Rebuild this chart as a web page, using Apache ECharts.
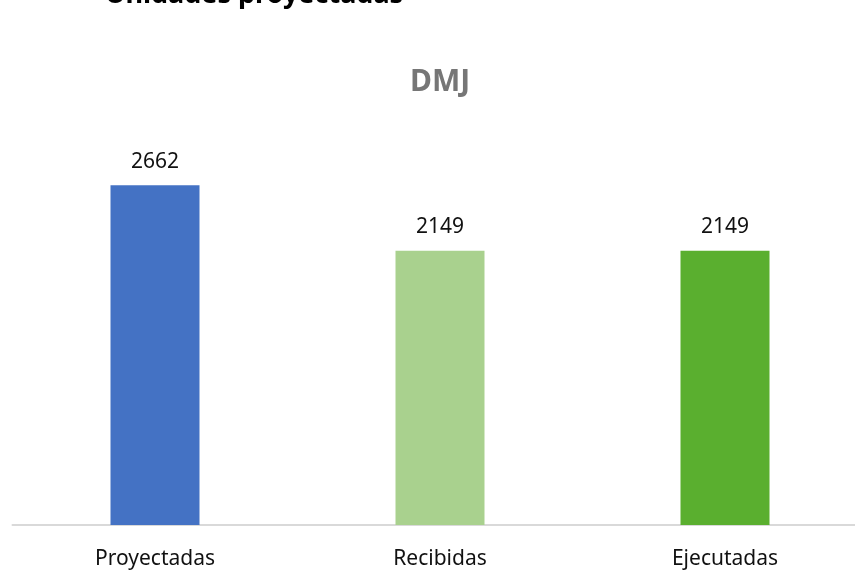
<!DOCTYPE html>
<html><head><meta charset="utf-8">
<script src="https://cdn.jsdelivr.net/npm/echarts@6/dist/echarts.min.js"></script>
<style>html,body{margin:0;padding:0;background:#fff}#c{width:855px;height:572px}</style>
</head><body><div id="c"></div>
<script>
const categories = ['Proyectadas', 'Recibidas', 'Ejecutadas'];
const values = [2662, 2149, 2149];
const barColors = ['#4472C4', '#A9D18E', '#5AAF2F'];
const chartTitle = 'DMJ';
const pageTitle = 'Unidades proyectadas';

const chart = echarts.init(document.getElementById('c'));
chart.setOption({
  animation: false,
  backgroundColor: '#fff',
  graphic: [{
    type: 'text', x: 105, y: -18,
    style: { text: pageTitle, font: 'bold 27px "Noto Sans"', fill: '#000', verticalAlign: 'top' }
  }, {
    type: 'text', left: 410, top: 67,
    style: { text: chartTitle, font: 'bold 30px "Noto Sans"', fill: '#767676' }
  }],
  grid: { left: 12.5, right: -12.5, top: 142, bottom: 47, containLabel: false, outerBoundsMode: 'none' },
  xAxis: {
    type: 'category', data: categories,
    axisTick: { show: false },
    axisLine: { lineStyle: { color: '#D9D9D9', width: 2 } },
    axisLabel: { fontFamily: 'Noto Sans', fontSize: 21, color: '#111', margin: 24 }
  },
  yAxis: { type: 'value', min: 0, max: 3000, show: false, splitLine: { show: false } },
  series: [{
    type: 'bar', barWidth: 89,
    data: values.map((v, i) => ({ value: v, itemStyle: { color: barColors[i] } })),
    label: { show: true, position: 'top', distance: 13, fontFamily: 'Noto Sans', fontSize: 21, color: '#111' }
  }]
});
</script></body></html>
